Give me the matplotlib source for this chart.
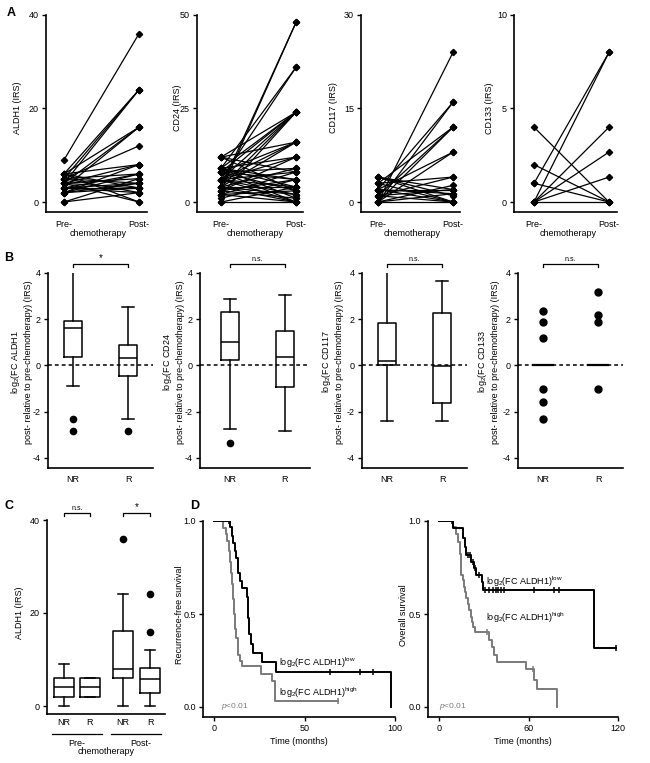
import numpy as np
import matplotlib
matplotlib.use('Agg')
import matplotlib.pyplot as plt

plt.rcParams['font.family'] = ['Liberation Sans', 'DejaVu Sans']
plt.rcParams['font.size'] = 6.5
plt.rcParams['axes.unicode_minus'] = False
plt.rcParams['mathtext.fontset'] = 'custom'
plt.rcParams['mathtext.rm'] = 'Liberation Sans'
plt.rcParams['mathtext.it'] = 'Liberation Sans:italic'
plt.rcParams['mathtext.default'] = 'regular'

W, H = 650, 763
GRAY = '#7a7a7a'

# ---- panel A: paired IRS pre/post chemotherapy
aldh1_pre = [9, 6, 4, 5, 6, 4, 3, 5, 2, 4, 6, 3, 5, 4, 3, 2, 6, 4, 2, 3, 5, 0, 6, 4, 2, 0, 3, 5]
aldh1_post = [36, 24, 24, 24, 16, 16, 16, 12, 8, 8, 8, 6, 6, 5, 4, 4, 3, 3, 3, 2, 2, 2, 0, 0, 6, 5, 3, 4]
cd24_pre = [4, 3, 6, 9, 12, 9, 8, 6, 4, 2, 12, 8, 6, 4, 9, 6, 3, 8, 4, 12, 6, 2, 9, 8, 3, 1,
            9, 6, 4, 0, 12, 8, 2, 6, 4, 9, 3, 6, 4, 2, 0, 8]
cd24_post = [48, 48, 36, 36, 24, 24, 24, 24, 24, 24, 16, 16, 16, 16, 12, 12, 12, 9, 9, 8, 8, 8, 6, 6, 6, 6,
             4, 4, 4, 4, 3, 3, 3, 2, 2, 1, 1, 0, 0, 0, 0, 0]
cd117_pre = [0, 2, 0, 3, 1, 0, 2, 0, 4, 3, 2, 1, 0, 4, 3, 2, 2, 1, 0, 0, 4, 1]
cd117_post = [24, 16, 16, 12, 12, 12, 8, 8, 2, 4, 0, 2, 2.67, 0, 0, 1.33, 2, 0, 1.33, 0, 1, 4]
cd133_pre = [4, 2, 1, 0, 0, 0, 0, 0, 1]
cd133_post = [0, 0, 8, 8, 4, 2.67, 1.33, 0, 0]

# ---- panel B: log2 fold change, box stats [whislo, q1, med, q3, whishi]
fc_aldh1_nr = [-0.9, 0.38, 1.6, 1.93, 4.1]
fc_aldh1_nr_out = [-2.32, -2.82]
fc_aldh1_r = [-2.32, -0.44, 0.34, 0.9, 2.52]
fc_aldh1_r_out = [-2.82]
fc_cd24_nr = [-2.74, 0.22, 1.0, 2.33, 2.88]
fc_cd24_nr_out = [-3.35]
fc_cd24_r = [-2.85, -0.94, 0.37, 1.48, 3.07]
fc_cd24_r_out = []
fc_cd117_nr = [-2.4, 0.0, 0.18, 1.85, 4.04]
fc_cd117_r = [-2.4, -1.64, -0.03, 2.28, 3.64]
fc_cd133_nr = [2.36, 1.9, 1.2, -1.0, -1.58, -2.33]
fc_cd133_r = [3.18, 2.18, 1.9, -1.0]
fc_cd133_med = [0, 0]

# ---- panel C: ALDH1 IRS by response
c_pre_nr = [0, 2, 4, 6, 9]
c_pre_r = [2, 2, 4, 6, 6]
c_post_nr = [0, 6.1, 8, 16.2, 24.1]
c_post_nr_out = [36]
c_post_r = [0, 2.8, 5.8, 8.1, 12.1]
c_post_r_out = [24, 16]

# ---- panel D: Kaplan-Meier steps
rfs_low_t = [0, 8.9, 9.8, 10.7, 11.5, 12.2, 13.0, 13.5, 14.3, 15.7, 18.1, 18.9, 19.4, 20.4, 21.3, 26.3, 34.3, 98]
rfs_low_s = [1.0, 0.97, 0.92, 0.88, 0.84, 0.80, 0.75, 0.72, 0.68, 0.64, 0.59, 0.48, 0.39, 0.34, 0.29, 0.24, 0.19, 0.0]
rfs_low_cens = [8.3, 64, 80.5, 87.6]
rfs_high_t = [0, 5.2, 6.5, 7.4, 8.0, 8.7, 9.3, 9.8, 10.4, 10.9, 11.5, 12.2, 13.0, 13.5, 14.3, 15.7, 26, 32, 33.5, 68.7]
rfs_high_s = [1.0, 0.96, 0.93, 0.89, 0.84, 0.78, 0.72, 0.66, 0.58, 0.50, 0.42, 0.37, 0.33, 0.28, 0.25, 0.22, 0.18, 0.14, 0.03, 0.03]
rfs_high_cens = [68.7]
os_low_t = [0, 9.4, 16.4, 17.5, 18.4, 21.5, 23.5, 25.0, 28.7, 29.5, 103.6, 118.9]
os_low_s = [1.0, 0.964, 0.91, 0.86, 0.815, 0.78, 0.745, 0.71, 0.67, 0.63, 0.317, 0.317]
os_low_cens = [9.0, 19.5, 20.5, 22.5, 24.3, 26.5, 30.7, 33.6, 36.5, 38.1, 39.7, 41.5, 43.7, 64, 77.4, 80.3, 118.9]
os_high_t = [0, 9.4, 11.2, 12.8, 13.9, 14.6, 15.0, 15.9, 16.8, 17.5, 18.4, 19.5, 20.4, 21.3, 22.4, 23.1, 24.0,
             33.6, 35.2, 37.0, 38.8, 58.3, 64.0, 65.5, 79.2, 79.2]
os_high_s = [1.0, 0.968, 0.928, 0.887, 0.824, 0.771, 0.708, 0.681, 0.645, 0.618, 0.588, 0.556, 0.520, 0.484, 0.457,
             0.430, 0.403, 0.358, 0.323, 0.278, 0.242, 0.206, 0.143, 0.099, 0.099, 0.0]
os_high_cens = [32.5, 62.8]

fig = plt.figure(figsize=(6.5, 7.63), dpi=100)


def add_ax(l, t, r, b):
    ax = fig.add_axes([l / W, 1 - b / H, (r - l) / W, (b - t) / H])
    for s in ['top', 'right']:
        ax.spines[s].set_visible(False)
    for s in ['left', 'bottom']:
        ax.spines[s].set_linewidth(1.2)
    ax.tick_params(direction='out', length=3, width=1, pad=2, labelsize=6.5)
    return ax


def ftext(x, y, s, **kw):
    kw.setdefault('ha', 'center')
    kw.setdefault('va', 'center')
    fig.text(x / W, 1 - y / H, s, **kw)


def bracket(ax, x0, x1, y, dy, label, size):
    ax.plot([x0, x0, x1, x1], [y - dy, y, y, y - dy], color='k', lw=0.9, clip_on=False)
    ax.text((x0 + x1) / 2, y + dy * 0.4, label, ha='center', va='bottom', fontsize=size)


def stats(v, out=()):
    return dict(whislo=v[0], q1=v[1], med=v[2], q3=v[3], whishi=v[4], fliers=list(out))


def level_at(t, s, x):
    i = np.searchsorted(t, x, side='right') - 1
    return np.asarray(s)[i]


box_kw = dict(showfliers=True, patch_artist=False,
              boxprops=dict(color='k', lw=1.1), whiskerprops=dict(color='k', lw=1.1),
              capprops=dict(color='k', lw=1.1), medianprops=dict(color='k', lw=1.1),
              flierprops=dict(marker='o', markerfacecolor='k', markeredgecolor='k', markersize=4.5))

# ---------------- A
a_specs = [
    (aldh1_pre, aldh1_post, 'ALDH1 (IRS)', [0, 20, 40], (46, 147), 18, 18),
    (cd24_pre, cd24_post, 'CD24 (IRS)', [0, 25, 50], (197, 303), 24, 177),
    (cd117_pre, cd117_post, 'CD117 (IRS)', [0, 15, 30], (361, 460), 17, 333),
    (cd133_pre, cd133_post, 'CD133 (IRS)', [0, 5, 10], (514, 617), 20, 490),
]
for pre, post, lab, yt, (l, r), off, lx in a_specs:
    ax = add_ax(l, 15, r, 212)
    for p0, p1 in zip(pre, post):
        ax.plot([0, 1], [p0, p1], color='k', lw=0.9, marker='D', ms=3.2)
    top = yt[-1]
    ax.set_ylim(-top * 10 / 187, top)
    ax.set_xlim(-off / 75, (r - l - off) / 75)
    ax.set_yticks(yt)
    ax.set_xticks([0, 1])
    ax.set_xticklabels(['Pre-', 'Post-'])
    ax.tick_params(axis='x', length=0, pad=6)
    ftext(lx, 108, lab, rotation=90)
    ftext(l + off + 0.45 * 75, 234, 'chemotherapy')

# ---------------- B
b_specs = [
    ('ALDH1', stats(fc_aldh1_nr, fc_aldh1_nr_out), stats(fc_aldh1_r, fc_aldh1_r_out), (48, 153), 25, '*', 21),
    ('CD24', stats(fc_cd24_nr, fc_cd24_nr_out), stats(fc_cd24_r, fc_cd24_r_out), (200, 310), 30, 'n.s.', 173),
    ('CD117', stats(fc_cd117_nr), stats(fc_cd117_r), (362, 467), 25, 'n.s.', 332),
    ('CD133', None, None, (518, 623), 25, 'n.s.', 488),
]
for name, s_nr, s_r, (l, r), off, sig, lx in b_specs:
    ax = add_ax(l, 273, r, 468)
    ax.axhline(0, color='k', lw=1.1, ls=(0, (2.5, 2)), zorder=0)
    if s_nr is not None:
        ax.bxp([s_nr, s_r], positions=[0, 1], widths=0.31, capwidths=0.21, **box_kw)
    else:
        ax.plot([0] * len(fc_cd133_nr), fc_cd133_nr, 'o', color='k', ms=5)
        ax.plot([1] * len(fc_cd133_r), fc_cd133_r, 'o', color='k', ms=5)
        for xpos, m in zip([0, 1], fc_cd133_med):
            ax.plot([xpos - 0.18, xpos + 0.18], [m, m], color='k', lw=1.6)
    ax.set_ylim(-4 - 10 / 23.1, 4)
    ax.set_xlim(-off / 55, (r - l - off) / 55)
    ax.set_yticks([4, 2, 0, -2, -4])
    ax.set_xticks([0, 1])
    ax.set_xticklabels(['NR', 'R'])
    ax.tick_params(axis='x', length=0, pad=5)
    bracket(ax, 0, 1, 4.39, 0.13, sig, 7 if sig == '*' else 5)
    ftext(lx, 362, 'log$_2$(FC ' + name + '\npost- relative to pre-chemotherapy) (IRS)',
          rotation=90, multialignment='center', linespacing=1.15)

# ---------------- C
ax = add_ax(47, 520, 165, 714)
cpos = [1, 2, 3.27, 4.31]
ax.bxp([stats(c_pre_nr), stats(c_pre_r), stats(c_post_nr, c_post_nr_out), stats(c_post_r, c_post_r_out)],
       positions=cpos, widths=0.77, capwidths=0.38, **box_kw)
ax.set_ylim(-8 / 4.65, 40)
ax.set_xlim(1 - 17 / 26, 4.31 + 15 / 26)
ax.set_yticks([0, 20, 40])
ax.set_xticks(cpos)
ax.set_xticklabels(['NR', 'R', 'NR', 'R'])
ax.tick_params(axis='x', length=0, pad=3)
bracket(ax, cpos[0], cpos[1], 41.5, 0.6, 'n.s.', 5)
bracket(ax, cpos[2], cpos[3], 41.5, 0.6, '*', 7)
xt = ax.get_xaxis_transform()
ax.plot([0.55, 2.45], [-0.105, -0.105], transform=xt, color='k', lw=0.9, clip_on=False)
ax.plot([2.8, 4.75], [-0.105, -0.105], transform=xt, color='k', lw=0.9, clip_on=False)
ftext(77, 743, 'Pre-')
ftext(141, 743, 'Post-')
ftext(106, 751, 'chemotherapy')
ftext(20, 613, 'ALDH1 (IRS)', rotation=90)

# ---------------- D
d_specs = [
    ((203, 395), 1.8, 100, [0, 50, 100], rfs_low_t, rfs_low_s, rfs_low_cens,
     rfs_high_t, rfs_high_s, rfs_high_cens, 'Recurrence-free survival', 179, (36, 0.2), (36, 0.035), 4),
    ((428, 618), 1.49, 120, [0, 60, 120], os_low_t, os_low_s, os_low_cens,
     os_high_t, os_high_s, os_high_cens, 'Overall survival', 403, (31.5, 0.635), (31.5, 0.44), 0),
]
for (l, r), pxm, tmax, xt_, lt, ls_, lc, ht, hs, hc, ylab, ylx, lowpos, highpos, px_ in d_specs:
    ax = add_ax(l, 521, r, 717)
    ax.step(ht, hs, where='post', color=GRAY, lw=1.4)
    ax.plot(hc, level_at(ht, hs, hc), '|', color=GRAY, ms=5, mew=1.1)
    ax.step(lt, ls_, where='post', color='k', lw=1.4)
    ax.plot(lc, level_at(lt, ls_, lc), '|', color='k', ms=5, mew=1.1)
    ax.set_xlim(-11 / pxm, tmax)
    ax.set_ylim(-10 / 186, 1.0)
    ax.set_xticks(xt_)
    ax.set_yticks([0, 0.5, 1.0])
    ax.set_yticklabels(['0.0', '0.5', '1.0'])
    ax.set_xlabel('Time (months)', fontsize=6.5, labelpad=3)
    ax.text(lowpos[0], lowpos[1], 'log$_2$(FC ALDH1)$^{low}$', fontsize=6.5, va='bottom')
    ax.text(highpos[0], highpos[1], 'log$_2$(FC ALDH1)$^{high}$', fontsize=6.5, va='bottom')
    ax.text(px_, 0.005, '$\\it{p}$<0.01', color=GRAY, fontsize=6, va='center')
    ftext(ylx, 615, ylab, rotation=90)

for letter, x, y in [('A', 11, 13), ('B', 9, 258), ('C', 9, 506), ('D', 195, 506)]:
    ftext(x, y, letter, fontsize=9, fontweight='bold')

fig.savefig('out.png', dpi=100)
